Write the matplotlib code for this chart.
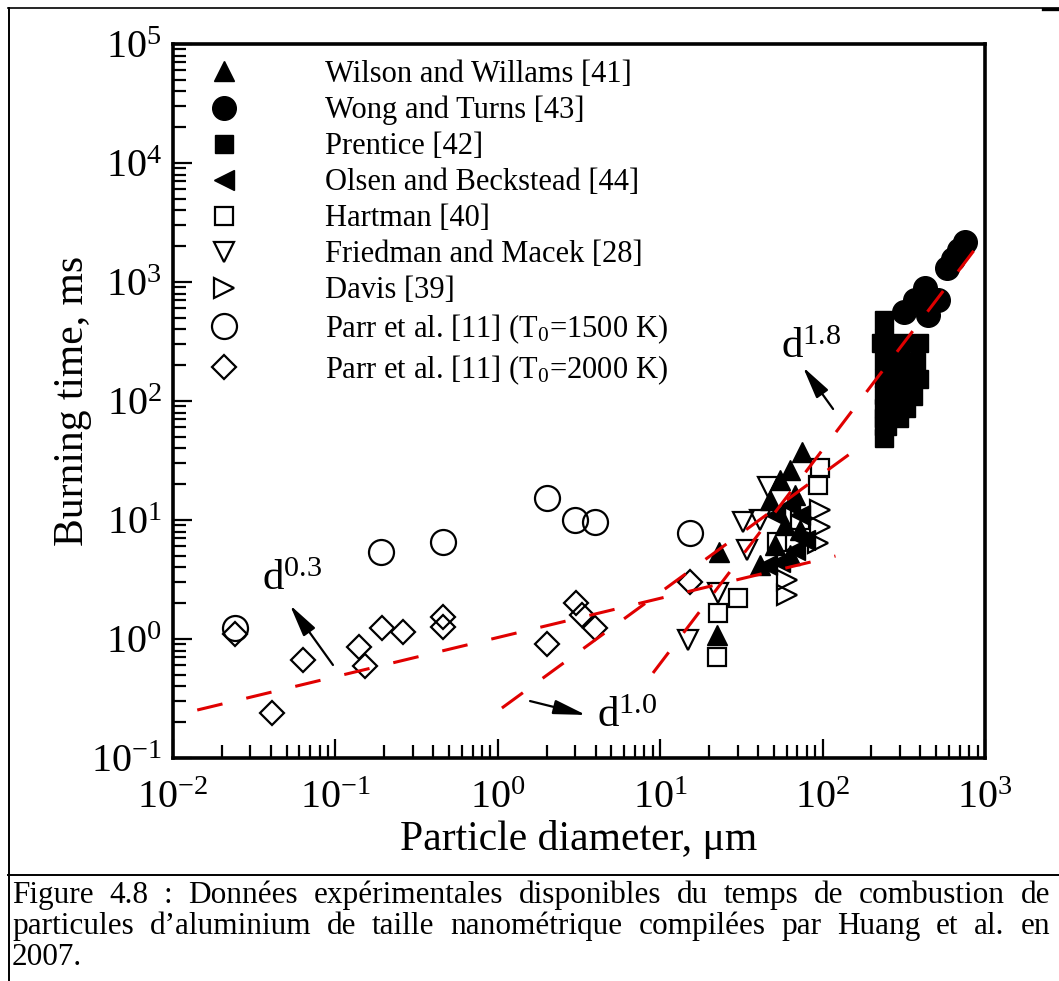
import matplotlib
matplotlib.use('Agg')
import matplotlib.pyplot as plt
from matplotlib.lines import Line2D
from matplotlib.ticker import LogLocator, LogFormatterMathtext, NullFormatter

plt.rcParams['font.family'] = ['Liberation Serif', 'DejaVu Serif']
plt.rcParams['mathtext.fontset'] = 'custom'
plt.rcParams['mathtext.rm'] = 'Liberation Serif'
plt.rcParams['mathtext.it'] = 'Liberation Serif:italic'
plt.rcParams['mathtext.bf'] = 'Liberation Serif:bold'
plt.rcParams['mathtext.default'] = 'regular'

# ---------------- data (particle diameter in um, burning time in ms) ----------------
wilson_d = [23.0, 22.4, 74.7, 63.0, 54.7, 47.4, 67.6, 58.6, 72.6, 50.9, 41.1, 63.0]
wilson_t = [5.38, 1.08, 37.3, 26.3, 21.7, 14.7, 16.2, 9.08, 8.24, 6.17, 4.19, 5.08]

wong_d = [583, 635, 692, 753, 427, 514, 317, 446, 370]
wong_t = [1312, 1560, 1858, 2168, 891, 706, 560, 528, 700]

prentice_d = [239, 239, 229, 300, 392, 239, 300, 376, 239, 300, 392, 239, 300, 360,
              239, 300, 326, 239, 295, 239, 249, 239]
prentice_t = [479, 338, 307, 307, 307, 221, 221, 213, 156, 156, 154, 112, 112, 110,
              87.3, 87.3, 87.3, 71.9, 71.9, 61.7, 61.7, 48.9]

olsen_d = [45.5, 54.7, 67.6, 78.0, 50.9, 63.0, 72.6]
olsen_t = [4.19, 4.44, 5.6, 6.79, 11.0, 13.4, 11.0]

hartman_d = [22.4, 22.7, 30.1, 52.4, 96.4, 93.7, 72.6]
hartman_t = [0.707, 1.65, 2.21, 6.53, 27.4, 19.7, 10.0]

friedman_d = [14.8, 22.7, 32.4, 46.1, 34.2, 41.1]
friedman_t = [0.98, 2.44, 9.62, 18.9, 5.6, 10.0]

davis_d = [60.4, 60.4, 96.4, 96.4, 93.7]
davis_t = [3.13, 2.34, 12.1, 8.74, 6.41]

parr1500_d = [0.0241, 0.191, 0.460, 2.01, 2.99, 3.97, 15.2]
parr1500_t = [1.24, 5.38, 6.53, 15.3, 10.0, 9.62, 7.78]

parr2000_d = [0.0241, 0.0407, 0.063, 0.140, 0.152, 0.194, 0.261, 0.460, 0.460,
              2.01, 3.03, 3.30, 3.97, 15.2]
parr2000_t = [1.10, 0.239, 0.667, 0.857, 0.593, 1.24, 1.15, 1.53, 1.26,
              0.908, 2.01, 1.59, 1.24, 3.01]

# fitted trend lines (end points)
fit03_d = [0.0141, 120]
fit03_t = [0.253, 4.98]
fit10_d = [1.06, 175]
fit10_t = [0.263, 42.7]
fit18_d = [9.03, 1000]
fit18_t = [0.518, 2437]

labels = ['Wilson and Willams [41]', 'Wong and Turns [43]', 'Prentice [42]',
          'Olsen and Beckstead [44]', 'Hartman [40]', 'Friedman and Macek [28]',
          'Davis [39]', r'Parr et al. [11] (T$_0$=1500 K)',
          r'Parr et al. [11] (T$_0$=2000 K)']

exponent_labels = ['0.3', '1.0', '1.8']
# (text pos, arrow head, arrow tail) in data coords
ann_text = [(0.0353, 2.58), (4.08, 0.182), (55.4, 230)]
ann_head = [(0.0525, 1.93), (3.49, 0.23), (75.7, 193)]
ann_tail = [(0.0966, 0.605), (1.58, 0.301), (116, 85.7)]

caption_lines = [
    "Figure 4.8 : Données expérimentales disponibles du temps de combustion de",
    "particules d’aluminium de taille nanométrique compilées par Huang et al. en",
    "2007.",
]

# ---------------- figure ----------------
W, H = 1059, 981
fig = plt.figure(figsize=(W / 100, H / 100), dpi=100)
fig.patch.set_facecolor('white')
ax = fig.add_axes([173 / W, 1 - 758 / H, (985 - 173) / W, (758 - 44) / H])

mew = 1.6
hs = []
hs.append(ax.plot(wilson_d, wilson_t, ls='none', marker='^', ms=14, mfc='black', mec='black',
                  label=labels[0], zorder=4)[0])
hs.append(ax.plot(wong_d, wong_t, ls='none', marker='o', ms=17, mfc='black', mec='black',
                  label=labels[1], zorder=3)[0])
hs.append(ax.plot(prentice_d, prentice_t, ls='none', marker='s', ms=13, mfc='black', mec='black',
                  label=labels[2], zorder=2.5)[0])
hs.append(ax.plot(olsen_d, olsen_t, ls='none', marker='<', ms=14, mfc='black', mec='black',
                  label=labels[3], zorder=4)[0])
hs.append(ax.plot(hartman_d, hartman_t, ls='none', marker='s', ms=12.5, mfc='none', mec='black',
                  mew=mew, label=labels[4], zorder=3)[0])
hs.append(ax.plot(friedman_d, friedman_t, ls='none', marker='v', ms=15, mfc='none', mec='black',
                  mew=mew, label=labels[5], zorder=3)[0])
hs.append(ax.plot(davis_d, davis_t, ls='none', marker='>', ms=14, mfc='none', mec='black',
                  mew=mew, label=labels[6], zorder=3)[0])
hs.append(ax.plot(parr1500_d, parr1500_t, ls='none', marker='o', ms=18, mfc='none', mec='black',
                  mew=mew, label=labels[7], zorder=3)[0])
hs.append(ax.plot(parr2000_d, parr2000_t, ls='none', marker='D', ms=12.5, mfc='none', mec='black',
                  mew=mew, label=labels[8], zorder=3)[0])

red = '#e00000'
for fd, ft in [(fit03_d, fit03_t), (fit10_d, fit10_t), (fit18_d, fit18_t)]:
    ax.plot(fd, ft, color=red, lw=2.2, ls=(0, (8.5, 8)), zorder=6)

for lab, tp, hp, tl in zip(exponent_labels, ann_text, ann_head, ann_tail):
    ax.text(tp[0], tp[1], r'$\mathrm{d}^{%s}$' % lab, fontsize=31, ha='left', va='baseline',
            zorder=7)
    ax.annotate('', xy=hp, xytext=tl,
                arrowprops=dict(arrowstyle='-|>,head_length=0.9,head_width=0.2',
                                color='black', lw=1.6, mutation_scale=22,
                                shrinkA=0, shrinkB=0), zorder=7)

ax.set_xscale('log')
ax.set_yscale('log')
ax.set_xlim(1e-2, 1e3)
ax.set_ylim(1e-1, 1e5)
for axis in (ax.xaxis, ax.yaxis):
    axis.set_major_locator(LogLocator(base=10, numticks=20))
    axis.set_minor_locator(LogLocator(base=10, subs=range(2, 10), numticks=20))
    axis.set_major_formatter(LogFormatterMathtext())
    axis.set_minor_formatter(NullFormatter())

ax.tick_params(which='both', direction='in', top=False, right=False, width=1.6,
               labelsize=29, colors='black')
ax.tick_params(which='major', length=14)
ax.tick_params(which='minor', length=9.5)
ax.tick_params(axis='x', pad=16)
ax.tick_params(axis='y', pad=8)
for sp in ax.spines.values():
    sp.set_linewidth(2.6)

ax.set_xlabel('Particle diameter, μm', fontsize=30, labelpad=2)
ax.set_ylabel('Burning time, ms', fontsize=30, labelpad=-1)

fs_leg = 22
leg = ax.legend(handles=hs, loc='upper left', bbox_to_anchor=(0.044, 0.978), frameon=False,
                fontsize=fs_leg, handlelength=1.0, handletextpad=2.8, labelspacing=0.23,
                borderpad=0, borderaxespad=0, numpoints=1)

# ---------------- frame lines ----------------
def fx(px):
    return px / W

def fy(py):
    return 1 - py / H

fig.add_artist(Line2D([fx(9), fx(9)], [fy(8), fy(981)], color='black', lw=1.4))
fig.add_artist(Line2D([fx(8), fx(1059)], [fy(8), fy(8)], color='black', lw=1.2))
fig.add_artist(Line2D([fx(1043), fx(1059)], [fy(9), fy(9)], color='black', lw=2.4))
fig.add_artist(Line2D([fx(8), fx(1059)], [fy(875), fy(875)], color='black', lw=1.4))

# ---------------- caption (justified) ----------------
renderer = fig.canvas.get_renderer()
cap_fs = 22.5
baselines = [903, 934, 965]
left_px, right_px = 12, 1050
for i, (line, by) in enumerate(zip(caption_lines, baselines)):
    words = line.split(' ')
    texts = [fig.text(0, fy(by), w, fontsize=cap_fs, ha='left', va='baseline') for w in words]
    widths = [t.get_window_extent(renderer).width for t in texts]
    if i < len(caption_lines) - 1 and len(words) > 1:
        gap = (right_px - left_px - sum(widths)) / (len(words) - 1)
    else:
        gap = 0.25 * cap_fs * 100 / 72
    x = left_px
    for t, w in zip(texts, widths):
        t.set_x(fx(x))
        x += w + gap

fig.savefig('out.png', dpi=100, facecolor='white')
